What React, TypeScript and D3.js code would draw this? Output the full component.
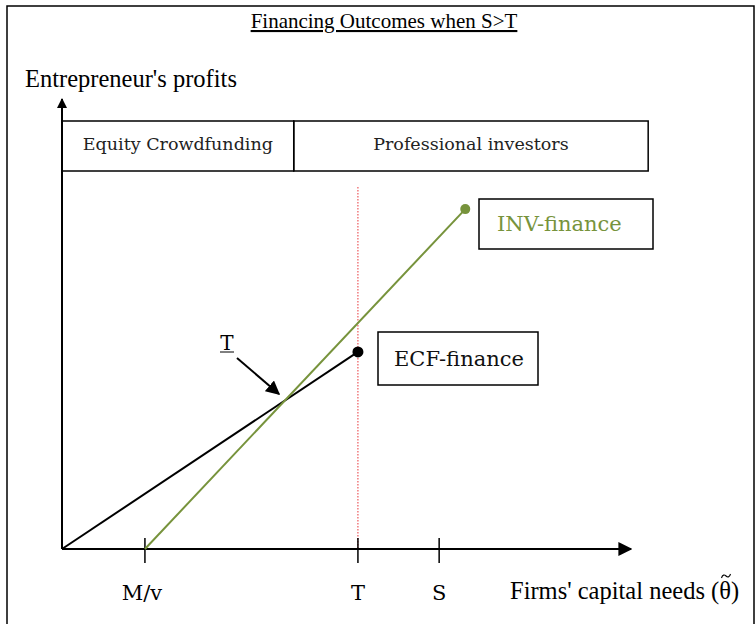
import React from 'react';
import * as d3 from 'd3';

// axis ticks on the capital-needs axis
const tickLabels = ['M/v', 'T', 'S'];
const tickValues = [14.6, 52.1, 66.4];

// financing lines: [capital needs, profits]
const ecfLine: [number, number][] = [[0, 0], [52.1, 43.9]];
const invLine: [number, number][] = [[14.6, 0], [71, 75.7]];

// regions shown in the top band
const regionLabels = ['Equity Crowdfunding', 'Professional investors'];
const regionBounds = [0, 40.8, 103.2];

const W = 756;
const H = 624;

const App = () => {
  const x = d3.scaleLinear().domain([0, 100]).range([62, 630]);
  const y = d3.scaleLinear().domain([0, 100]).range([549, 100]);
  const line = d3.line<[number, number]>().x((d) => x(d[0])).y((d) => y(d[1]));

  const serif = '"Liberation Serif", "Times New Roman", serif';
  const cambria = '"DejaVu Serif", serif';
  const green = '#77933c';
  const tVal = tickValues[1];
  const ecfEnd = ecfLine[1];
  const invEnd = invLine[1];

  return (
    <svg width={W} height={H} style={{ position: 'absolute', left: 0, top: 0 }}>
      <defs>
        <marker id="ah" viewBox="0 0 10 10" refX="9" refY="5" markerWidth="10" markerHeight="10" markerUnits="userSpaceOnUse" orient="auto">
          <path d="M0,0 L10,5 L0,10 z" fill="#000" />
        </marker>
        <marker id="ah2" viewBox="0 0 10 10" refX="9" refY="5" markerWidth="14" markerHeight="14" markerUnits="userSpaceOnUse" orient="auto">
          <path d="M0,0 L10,5 L0,10 z" fill="#000" />
        </marker>
      </defs>
      <rect x={0} y={0} width={W} height={H} fill="#fff" />
      {/* outer frame */}
      <path d={`M7,${H} L7,6 L754,6 L754,${H}`} fill="none" stroke="#000" strokeWidth={1.5} />

      {/* title */}
      <text x={384} y={28} textAnchor="middle" fontFamily={serif} fontSize={21} textDecoration="underline">
        Financing Outcomes when S&gt;T
      </text>

      {/* y axis label */}
      <text x={25} y={87} fontFamily={serif} fontSize={24.5}>Entrepreneur's profits</text>

      {/* region boxes */}
      {regionLabels.map((lab, i) => (
        <g key={lab}>
          <rect x={x(regionBounds[i])} y={121} width={x(regionBounds[i + 1]) - x(regionBounds[i])} height={50}
            fill="none" stroke="#000" strokeWidth={1.5} />
          <text x={(x(regionBounds[i]) + x(regionBounds[i + 1])) / 2} y={150} textAnchor="middle"
            fontFamily={cambria} fontSize={17.5} fill="#222">{lab}</text>
        </g>
      ))}

      {/* dotted threshold at T */}
      <line x1={x(tVal)} x2={x(tVal)} y1={187} y2={y(0)} stroke="#e8343a" strokeWidth={1} strokeDasharray="1.5,1.5" />

      {/* axes */}
      <line x1={x(0)} x2={x(0)} y1={y(0)} y2={99} stroke="#000" strokeWidth={2} markerEnd="url(#ah)" />
      <line x1={x(0)} x2={631} y1={y(0)} y2={y(0)} stroke="#000" strokeWidth={2} markerEnd="url(#ah2)" />
      {tickValues.map((v, i) => (
        <g key={tickLabels[i]}>
          <line x1={x(v)} x2={x(v)} y1={y(0) - 11} y2={y(0) + 14} stroke="#000" strokeWidth={1.5} />
          <text x={x(v) - (i === 0 ? 3 : 0)} y={600} textAnchor="middle" fontFamily={cambria} fontSize={21}>{tickLabels[i]}</text>
        </g>
      ))}
      <text x={510} y={599} fontFamily={serif} fontSize={24.5}>
        Firms' capital needs (θ)
      </text>
      {/* tilde over theta */}
      <path d="M721.5,578 C722.5,574.5 724.5,574.5 726,576 C727.5,577.5 729.5,577.5 730.5,574" fill="none" stroke="#000" strokeWidth={1.1} />

      {/* financing lines */}
      <path d={line(ecfLine) ?? ''} fill="none" stroke="#000" strokeWidth={2} />
      <path d={line(invLine) ?? ''} fill="none" stroke={green} strokeWidth={2} />
      <circle cx={x(ecfEnd[0])} cy={y(ecfEnd[1])} r={5.5} fill="#000" />
      <circle cx={x(invEnd[0])} cy={y(invEnd[1])} r={5} fill={green} />

      {/* line labels */}
      <rect x={479} y={199} width={174} height={50} fill="#fff" stroke="#000" strokeWidth={1.5} />
      <text x={497} y={231} fontFamily={cambria} fontSize={21} fill={green}>INV-finance</text>
      <rect x={378} y={332} width={160} height={53} fill="#fff" stroke="#000" strokeWidth={1.5} />
      <text x={394} y={366} fontFamily={cambria} fontSize={21} fill="#111">ECF-finance</text>

      {/* crossing point marker */}
      <text x={227} y={350} textAnchor="middle" fontFamily={cambria} fontSize={20}>T</text>
      <line x1={220} x2={234} y1={352} y2={352} stroke="#000" strokeWidth={1} />
      <line x1={237} x2={279} y1={358} y2={394} stroke="#000" strokeWidth={2} markerEnd="url(#ah2)" />
    </svg>
  );
};

export default App;
